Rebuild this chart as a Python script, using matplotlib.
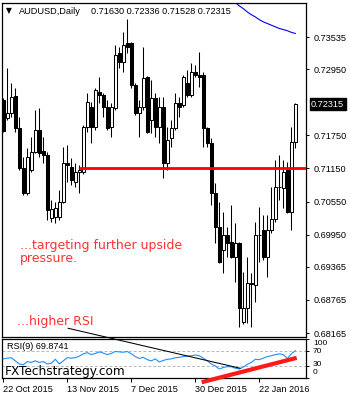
import numpy as np
import matplotlib
matplotlib.use("Agg")
import matplotlib.pyplot as plt
import matplotlib.transforms as mtransforms

# ---------------- data ----------------
symbol = "AUDUSD,Daily"
last_ohlc = [0.71630, 0.72336, 0.71528, 0.72315]

opens = [0.7239, 0.7207, 0.7216, 0.7246, 0.7188, 0.7116, 0.7071, 0.7112, 0.7145, 0.7185,
         0.7147, 0.7139, 0.7025, 0.7027, 0.7027, 0.7054, 0.7125, 0.7118, 0.7090, 0.7109,
         0.7109, 0.7190, 0.7227, 0.7190, 0.7254, 0.7248, 0.7227, 0.7190, 0.7225, 0.7324,
         0.7308, 0.7343, 0.7343, 0.7266, 0.7216, 0.7227, 0.7281, 0.7203, 0.7243, 0.7190,
         0.7227, 0.7125, 0.7170, 0.7188, 0.7234, 0.7230, 0.7270, 0.7248, 0.7290, 0.7285,
         0.7285, 0.7188, 0.7161, 0.7071, 0.7009, 0.6967, 0.6994, 0.6982, 0.6954, 0.6980,
         0.6837, 0.6862, 0.6905, 0.6904, 0.6994, 0.7003, 0.6954, 0.7003, 0.7023, 0.7081,
         0.7080, 0.7112, 0.7036, 0.71630]
highs = [0.7243, 0.7297, 0.7270, 0.7261, 0.7208, 0.7136, 0.7152, 0.7172, 0.7221, 0.7225,
         0.7172, 0.7145, 0.7058, 0.7054, 0.7076, 0.7154, 0.7158, 0.7134, 0.7125, 0.7121,
         0.7194, 0.7252, 0.7236, 0.7261, 0.7281, 0.7252, 0.7239, 0.7234, 0.7339, 0.7335,
         0.7363, 0.7386, 0.7345, 0.7270, 0.7239, 0.7335, 0.7283, 0.7276, 0.7252, 0.7245,
         0.7245, 0.7190, 0.7203, 0.7252, 0.7245, 0.7285, 0.7294, 0.7306, 0.7303, 0.7326,
         0.7290, 0.7190, 0.7170, 0.7089, 0.7054, 0.7036, 0.7009, 0.7048, 0.7016, 0.6982,
         0.6927, 0.6954, 0.6925, 0.7018, 0.7045, 0.7030, 0.7030, 0.7081, 0.7130, 0.7139,
         0.7130, 0.7127, 0.7190, 0.72336]
lows = [0.7181, 0.7203, 0.7208, 0.7181, 0.7112, 0.7067, 0.7067, 0.7109, 0.7143, 0.7136,
        0.7125, 0.7022, 0.7018, 0.7016, 0.7022, 0.7052, 0.7090, 0.7085, 0.7081, 0.7071,
        0.7105, 0.7181, 0.7161, 0.7185, 0.7234, 0.7208, 0.7185, 0.7172, 0.7221, 0.7297,
        0.7290, 0.7324, 0.7261, 0.7212, 0.7172, 0.7221, 0.7179, 0.7179, 0.7172, 0.7161,
        0.7098, 0.7112, 0.7154, 0.7185, 0.7208, 0.7227, 0.7245, 0.7245, 0.7281, 0.7263,
        0.7154, 0.7154, 0.7048, 0.6980, 0.6943, 0.6925, 0.6954, 0.6953, 0.6909, 0.6827,
        0.6832, 0.6835, 0.6828, 0.6873, 0.6945, 0.6949, 0.6918, 0.6998, 0.7018, 0.7058,
        0.7043, 0.7034, 0.7003, 0.71528]
closes = [0.7183, 0.7216, 0.7245, 0.7188, 0.7116, 0.7071, 0.7136, 0.7145, 0.7185, 0.7143,
          0.7139, 0.7039, 0.7041, 0.7043, 0.7054, 0.7125, 0.7121, 0.7094, 0.7109, 0.7112,
          0.7190, 0.7236, 0.7190, 0.7257, 0.7248, 0.7227, 0.7188, 0.7227, 0.7321, 0.7308,
          0.7339, 0.7335, 0.7266, 0.7216, 0.7227, 0.7279, 0.7181, 0.7243, 0.7190, 0.7227,
          0.7125, 0.7167, 0.7188, 0.7234, 0.7227, 0.7281, 0.7248, 0.7290, 0.7285, 0.7281,
          0.7188, 0.7161, 0.7071, 0.7009, 0.6945, 0.6994, 0.6980, 0.6954, 0.6980, 0.6862,
          0.6862, 0.6907, 0.6907, 0.6994, 0.6995, 0.6954, 0.7003, 0.7023, 0.7081, 0.7082,
          0.7109, 0.7036, 0.7163, 0.72315]

rsi = [49, 51, 52, 44, 36, 34, 42, 40, 44, 40,
       42, 36, 38, 48, 36, 44, 52, 51, 52, 56,
       62, 65, 60, 63, 67, 64, 60, 63, 68, 67,
       66, 68, 62, 55, 50, 53, 47, 44, 49, 41,
       45, 48, 49, 52, 53, 55, 56, 57, 59, 57,
       51, 44, 36, 31, 23, 27, 29, 29, 25, 23,
       28, 35, 40, 48, 47, 51, 55, 57, 60, 62,
       60, 50, 62, 69.8741]
rsi_period = 9

ma_idx = [57, 58, 59, 60, 61, 62, 63, 64, 65, 66, 67, 68, 69, 70, 71, 72, 73]
ma_vals = [0.7419, 0.7416, 0.7410, 0.7405, 0.7399, 0.7394, 0.7390, 0.7385, 0.7381,
           0.7378, 0.7375, 0.7372, 0.7369, 0.7367, 0.7365, 0.7362, 0.7360]

date_labels = ["22 Oct 2015", "13 Nov 2015", "7 Dec 2015", "30 Dec 2015", "22 Jan 2016"]
date_pos = [0, 16, 32, 48, 64]
price_ticks = [0.73535, 0.72950, 0.71750, 0.71150, 0.70550, 0.69950, 0.69365, 0.68765, 0.68165]
rsi_ticks = [100, 70, 30, 0]
rsi_levels = [70, 30]

support_level = 0.7115
support_start = 18.9
rsi_trend_x = [49.6, 73.35]
rsi_trend_y = [-10.8, 51.75]
down_trend_x = [16.2, 59.2]
down_trend_y = [127.5, 25.0]

note1 = ["...targeting further upside", "pressure."]
note2 = "...higher RSI"
brand = "FXTechstrategy.com"

# ---------------- figure ----------------
W, H = 350, 400
fig = plt.figure(figsize=(W / 100, H / 100), dpi=100)
fig.patch.set_facecolor("white")

def fy(py):
    return 1 - py / H

SMALL = "Liberation Sans"
ax = fig.add_axes([2 / W, 1 - 337 / H, 304 / W, 334 / H])
axr = fig.add_axes([2 / W, 1 - 378 / H, 304 / W, 39 / H])

o = np.array(opens); c = np.array(closes); h = np.array(highs); l = np.array(lows)
x = np.arange(len(o))
up = c >= o
ax.vlines(x, l, h, color="black", lw=0.75, zorder=2)
bb = np.minimum(o, c)
bh = np.maximum(np.abs(c - o), 0.00004)
ax.bar(x, bh, bottom=bb, width=0.7, color=np.where(up, "white", "black"),
       edgecolor="black", linewidth=0.75, zorder=3)

ax.plot(ma_idx, ma_vals, color="#0000ff", lw=0.8, zorder=2)
ax.hlines(support_level, support_start, 75.7, color="#ff0000", lw=2.0, zorder=4)

ax.set_xlim(-0.325, 75.675)
ax.set_ylim(0.68093, 0.74152)
ax.yaxis.tick_right()
ax.set_yticks(price_ticks)
ax.set_yticklabels([f"{v:.5f}" for v in price_ticks], family=SMALL, fontsize=6.6)
ax.tick_params(axis="y", direction="out", length=2.5, width=0.7, pad=2.8)
ax.set_xticks([])
for s in ax.spines.values():
    s.set_linewidth(0.9)

# current price box
tr = mtransforms.blended_transform_factory(fig.transFigure, ax.transData)
fig.text(311 / W, last_ohlc[3], f"{last_ohlc[3]:.5f}", transform=tr, va="center", ha="left",
         family=SMALL, fontsize=6.6, color="white",
         bbox=dict(facecolor="black", edgecolor="black", boxstyle="square,pad=0.15"))

# RSI panel
axr.plot(x, rsi, color="#1e90ff", lw=0.8, zorder=3)
for lv in rsi_levels:
    axr.axhline(lv, color="#b8b8b8", ls=(0, (3, 2)), lw=0.7, zorder=1)
axr.set_xlim(-0.325, 75.675)
axr.set_ylim(2.5, 100)
axr.yaxis.tick_right()
axr.set_yticks(rsi_ticks)
axr.set_yticklabels([])
axr.tick_params(axis="y", direction="out", length=2.5, width=0.7)
axr.set_xticks(date_pos)
axr.set_xticklabels(date_labels, family=SMALL, fontsize=6.6, ha="left")
axr.tick_params(axis="x", direction="out", length=3, width=0.7, pad=2)
for s in axr.spines.values():
    s.set_linewidth(0.9)

rsi_lbl_y = {"100": 343.5, "70": 351.5, "30": 364.5, "0": 372.5}
for t, py in rsi_lbl_y.items():
    fig.text(313 / W, fy(py), t, va="center", ha="left", family=SMALL, fontsize=6.0)

axr.text(0.015, 0.80, f"RSI({rsi_period}) {rsi[-1]:.4f}", transform=axr.transAxes,
         va="center", ha="left", family=SMALL, fontsize=6.6)

# trend lines
axr.plot(rsi_trend_x, rsi_trend_y, color="#ff1a1a", lw=3.0, clip_on=False, zorder=6,
         solid_capstyle="butt")
axr.plot(down_trend_x, down_trend_y, color="black", lw=0.75, clip_on=False, zorder=6)

# texts
fig.text(6 / W, fy(11), "\u25bc", family="DejaVu Sans", fontsize=5.5, va="center", ha="left")
fig.text(19 / W, fy(11), symbol, family=SMALL, fontsize=6.6, va="center", ha="left")
fig.text(91 / W, fy(11), " ".join(f"{v:.5f}" for v in last_ohlc), family=SMALL,
         fontsize=6.6, va="center", ha="left")

red = "#ff3333"
fig.text(20 / W, fy(249.5), note1[0], color=red, family="DejaVu Sans", fontsize=9, va="baseline")
fig.text(20 / W, fy(262), note1[1], color=red, family="DejaVu Sans", fontsize=9, va="baseline")
fig.text(17 / W, fy(325.5), note2, color=red, family="DejaVu Sans", fontsize=9, va="baseline")
fig.text(5 / W, fy(375.5), brand, color="black", family="DejaVu Sans", fontsize=8.7,
         va="baseline", zorder=7)

fig.savefig("out.png", dpi=100, facecolor="white")
